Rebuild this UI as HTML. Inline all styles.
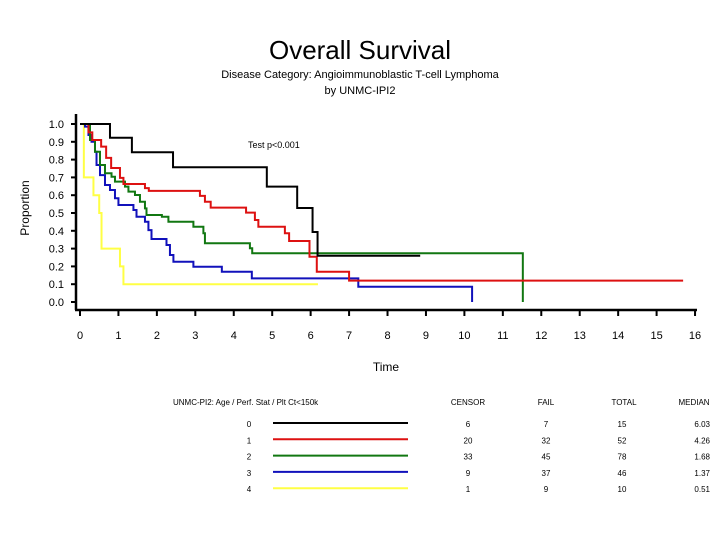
<!DOCTYPE html>
<html><head><meta charset="utf-8"><style>
body{margin:0;background:#fff;width:720px;height:540px;overflow:hidden;font-family:"Liberation Sans",sans-serif}
svg text{font-family:"Liberation Sans",sans-serif}
</style></head><body>
<svg id="c" width="720" height="540" viewBox="0 0 720 540">
<text x="360" y="59" font-size="26" text-anchor="middle">Overall Survival</text>
<text x="360" y="78" font-size="11" text-anchor="middle">Disease Category: Angioimmunoblastic T-cell Lymphoma</text>
<text x="360" y="94" font-size="11" text-anchor="middle">by UNMC-IPI2</text>
<text transform="translate(29,208) rotate(-90)" font-size="12" text-anchor="middle">Proportion</text>
<text x="386" y="371" font-size="12" text-anchor="middle">Time</text>
<text x="248" y="148" font-size="9">Test p&lt;0.001</text>
<g id="axes"></g><g id="curves"></g><g id="legend"></g>
</svg>
<script>
const xTicks=[0,1,2,3,4,5,6,7,8,9,10,11,12,13,14,15,16];
const yTicks=[0,0.1,0.2,0.3,0.4,0.5,0.6,0.7,0.8,0.9,1.0];
const groups=["0","1","2","3","4"];
const colors=["#000000","#dd1111","#117711","#1111bb","#ffff44"];
const t0=[0,0.78,1.35,2.42,4.86,5.65,6.05,6.18];
const s0=[1,0.923,0.841,0.757,0.648,0.528,0.393,0.26];
const end0=8.85, drop0=null;
const t1=[0,0.22,0.32,0.55,0.68,0.81,1.04,1.13,1.69,1.79,3.12,3.25,3.40,4.32,4.55,4.64,5.33,5.44,5.97,6.16,7.0];
const s1=[1,0.953,0.91,0.873,0.81,0.753,0.697,0.663,0.64,0.624,0.596,0.563,0.53,0.502,0.461,0.423,0.386,0.343,0.254,0.17,0.12];
const end1=15.69, drop1=null;
const t2=[0,0.26,0.39,0.52,0.65,0.82,0.91,1.17,1.26,1.43,1.56,1.69,1.73,2.13,2.3,2.95,3.21,3.25,4.42,4.48];
const s2=[1,0.91,0.844,0.77,0.723,0.704,0.676,0.648,0.62,0.601,0.563,0.526,0.489,0.479,0.451,0.423,0.386,0.33,0.302,0.274];
const end2=11.52, drop2=0;
const t3=[0,0.13,0.22,0.3,0.39,0.43,0.52,0.65,0.78,0.91,1.0,1.39,1.47,1.69,1.78,1.86,2.25,2.34,2.43,2.95,3.69,4.47,7.24];
const s3=[1,0.985,0.938,0.9,0.844,0.77,0.713,0.657,0.629,0.583,0.545,0.517,0.479,0.451,0.404,0.354,0.32,0.264,0.226,0.198,0.17,0.133,0.086];
const end3=10.2, drop3=0;
const t4=[0,0.1,0.35,0.5,0.56,1.04,1.13];
const s4=[1,0.7,0.6,0.5,0.3,0.2,0.1];
const end4=6.19, drop4=null;
const censorVals=["6","20","33","9","1"];
const failVals=["7","32","45","37","9"];
const totalVals=["15","52","78","46","10"];
const medianVals=["6.03","4.26","1.68","1.37","0.51"];

const NS="http://www.w3.org/2000/svg";
const X=t=>80+t*38.44, Y=s=>302-s*178;
function mk(tag,attrs,parent){const e=document.createElementNS(NS,tag);for(const k in attrs)e.setAttribute(k,attrs[k]);parent.appendChild(e);return e;}
const ax=document.getElementById('axes');
let yl=mk('line',{x1:76,y1:114,x2:76,y2:310,stroke:'#000','stroke-width':2.5},ax);


let xl=mk('line',{x1:75,y1:310,x2:697,y2:310,stroke:'#000','stroke-width':2.5},ax);


yTicks.forEach(v=>{
  let tk=mk('line',{x1:71,y1:Y(v),x2:76,y2:Y(v),stroke:'#000','stroke-width':2},ax);
  
  
  let tx=mk('text',{x:64,y:Y(v)+4,'font-size':11,'text-anchor':'end'},ax);tx.textContent=v.toFixed(1);
  
  
});
xTicks.forEach(v=>{
  let tk=mk('line',{x1:X(v),y1:310,x2:X(v),y2:316,stroke:'#000','stroke-width':2},ax);
  
  
  let tx=mk('text',{x:X(v),y:339,'font-size':11,'text-anchor':'middle'},ax);tx.textContent=v;
  
  
});
const cv=document.getElementById('curves');
const series=[[t0,s0,end0,drop0],[t1,s1,end1,drop1],[t2,s2,end2,drop2],[t3,s3,end3,drop3],[t4,s4,end4,drop4]];
[4,3,2,1,0].forEach(i=>{
  const [t,s,e,d]=series[i];
  let p='M'+X(t[0])+','+Y(s[0]);
  for(let k=1;k<t.length;k++){p+=' H'+X(t[k])+' V'+Y(s[k]);}
  p+=' H'+X(e);
  if(d!==null)p+=' V'+Y(d);
  let path=mk('path',{d:p,fill:'none',stroke:colors[i],'stroke-width':2},cv);
  
  
});
const lg=document.getElementById('legend');
function txt(x,y,s,anchor,name){let t=mk('text',{x:x,y:y,'font-size':8,'text-anchor':anchor},lg);t.textContent=s;

return t;}
txt(173,405,'UNMC-PI2: Age / Perf. Stat / Plt Ct<150k','start','legend-header-group');
txt(468,405,'CENSOR','middle','legend-header-censor');
txt(546,405,'FAIL','middle','legend-header-fail');
txt(624,405,'TOTAL','middle','legend-header-total');
txt(694,405,'MEDIAN','middle','legend-header-median');
groups.forEach((g,i)=>{
  const y=423+i*16.3;
  txt(249,y+4,g,'middle','legend-group-label');
  let l=mk('line',{x1:273,y1:y,x2:408,y2:y,stroke:colors[i],'stroke-width':2},lg);
  
  
  txt(468,y+4,censorVals[i],'middle','legend-censor-value');
  txt(546,y+4,failVals[i],'middle','legend-fail-value');
  txt(622,y+4,totalVals[i],'middle','legend-total-value');
  txt(710,y+4,medianVals[i],'end','legend-median-value');
});
</script>
</body></html>
